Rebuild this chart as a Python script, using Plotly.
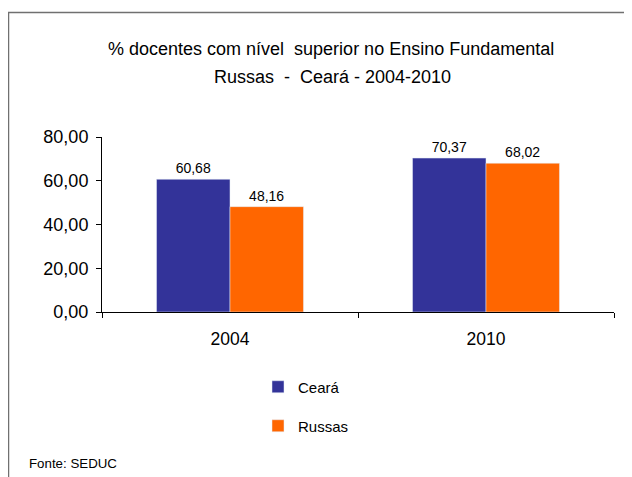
import plotly.graph_objects as go

categories = ["2004", "2010"]
ceara = [60.68, 70.37]
russas = [48.16, 68.02]
title_line1 = "% docentes com nível  superior no Ensino Fundamental"
title_line2 = "Russas  -  Ceará - 2004-2010"
source = "Fonte: SEDUC"

# The page body has an 8px margin, so the figure is drawn 8px smaller and
# all reference pixel positions are shifted by -8.
OFF = 8
W, H = 632 - OFF, 477 - OFF
L, R, T, B = 102 - OFF, 614 - OFF, 137 - OFF, 312 - OFF  # plot area


def px_x(p):
    return (p - OFF - L) / (R - L)


def px_y(p):
    return (B - (p - OFF)) / (B - T)


FONT = "Liberation Sans, Arial, sans-serif"

fig = go.Figure()
fig.add_trace(go.Bar(
    x=categories, y=ceara, name="Ceará", marker_color="#333399",
    texttemplate="%{y:.2f}", textposition="outside",
    textfont=dict(size=14, color="black", family=FONT),
    cliponaxis=False, legend="legend",
))
fig.add_trace(go.Bar(
    x=categories, y=russas, name="Russas", marker_color="#FF6600",
    texttemplate="%{y:.2f}", textposition="outside",
    textfont=dict(size=14, color="black", family=FONT),
    cliponaxis=False, legend="legend2",
))

legend_common = dict(
    font=dict(size=15, color="black", family=FONT),
    bgcolor="rgba(0,0,0,0)", xanchor="left", yanchor="middle",
    itemwidth=30,
)

fig.update_layout(
    width=W, height=H,
    margin=dict(l=L, r=W - R, t=T, b=H - B, pad=0),
    paper_bgcolor="white", plot_bgcolor="white",
    separators=",.",
    barmode="group", bargap=0.426, bargroupgap=0,
    font=dict(family=FONT, color="black"),
    showlegend=True,
    legend=dict(x=px_x(258), y=px_y(387), **legend_common),
    legend2=dict(x=px_x(258), y=px_y(426), **legend_common),
    xaxis=dict(
        showline=True, linecolor="black", linewidth=1,
        ticks="outside", ticklen=5, tickcolor="black", tickson="boundaries",
        tickfont=dict(size=17.5, family=FONT), showgrid=False,
        ticklabelstandoff=11,
    ),
    yaxis=dict(
        range=[0, 80], dtick=20, tickformat=".2f",
        showline=True, linecolor="black", linewidth=1,
        ticks="outside", ticklen=5, tickcolor="black",
        tickfont=dict(size=18, family=FONT), showgrid=False, zeroline=False,
        ticklabelstandoff=4,
    ),
    shapes=[dict(
        type="rect", xref="paper", yref="paper",
        x0=px_x(8.5), x1=px_x(660), y0=px_y(500), y1=px_y(12.5),
        line=dict(color="#707070", width=1.5), fillcolor="rgba(0,0,0,0)",
    )],
    annotations=[
        dict(text=title_line1, xref="paper", yref="paper",
             x=px_x(331), y=px_y(49), xanchor="center", yanchor="middle",
             showarrow=False, font=dict(size=18, family=FONT, color="black")),
        dict(text=title_line2, xref="paper", yref="paper",
             x=px_x(332), y=px_y(77), xanchor="center", yanchor="middle",
             showarrow=False, font=dict(size=18, family=FONT, color="black")),
        dict(text=source, xref="paper", yref="paper",
             x=px_x(27), y=px_y(463), xanchor="left", yanchor="middle",
             showarrow=False, font=dict(size=13.3, family=FONT, color="black")),
    ],
)

fig.write_html("out.html")
